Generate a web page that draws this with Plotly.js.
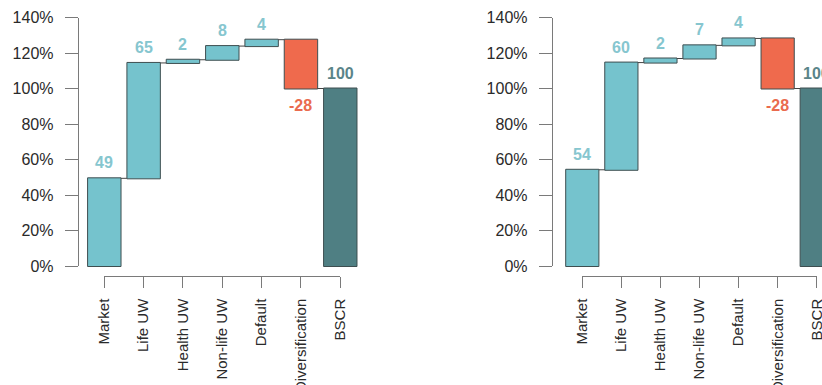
<!DOCTYPE html>
<html>
<head>
<meta charset="utf-8">
<script src="https://cdn.plot.ly/plotly-3.0.1.min.js"></script>
<style>html,body{margin:0;padding:0;background:#fff}#chart{width:822px;height:385px}</style>
</head>
<body>
<div id="chart"></div>
<script>
// ---- data ----
const categories = ["Market", "Life UW", "Health UW", "Non-life UW", "Default", "Diversification", "BSCR"];
const measures = ["relative", "relative", "relative", "relative", "relative", "relative", "total"];
const leftValues = [49.4, 65.0, 1.8, 7.7, 3.6, -27.5, 100];
const leftLabels = ["49", "65", "2", "8", "4", "-28", "100"];
const rightValues = [54.2, 60.4, 2.3, 7.4, 3.9, -28.2, 100];
const rightLabels = ["54", "60", "2", "7", "4", "-28", "100"];
const yTickVals = [0, 20, 40, 60, 80, 100, 120, 140];
const yTickText = ["0%", "20%", "40%", "60%", "80%", "100%", "120%", "140%"];

// ---- styling / geometry ----
const W = 822, H = 385;
const fx = p => p / W;
const fy = p => 1 - p / H;
const incColor = "#75C3CD", decColor = "#EF6A4D", totColor = "#4F7F83";
const incText = "#86C6CF", decText = "#EA6B4E", totText = "#5A8489";
const edge = "#3E4E50";
const axisCol = "#7a7a7a";
const FONT = "Liberation Sans, Arial, Helvetica, sans-serif";
const yTopPx = 17.5, yZeroPx = 266, xAxisPx = 275.7;
const pxPerUnit = (yZeroPx - yTopPx) / 140;

const panels = [
  {values: leftValues, labels: leftLabels, yAxisX: 77.7, first: 104.3, step: 39.33},
  {values: rightValues, labels: rightLabels, yAxisX: 551.7, first: 582.3, step: 39.07}
];

const data = [];
const layout = {
  width: W, height: H,
  margin: {l: 0, r: 0, t: 0, b: 0},
  paper_bgcolor: "#fff", plot_bgcolor: "rgba(0,0,0,0)",
  showlegend: false,
  font: {family: FONT, color: "#333"},
  annotations: []
};

panels.forEach((p, k) => {
  const bx = k === 0 ? "x" : "x2", by = k === 0 ? "y" : "y2";
  const tx = k === 0 ? "x3" : "x4", ty = k === 0 ? "y3" : "y4";
  const bxKey = k === 0 ? "xaxis" : "xaxis2", byKey = k === 0 ? "yaxis" : "yaxis2";
  const txKey = k === 0 ? "xaxis3" : "xaxis4", tyKey = k === 0 ? "yaxis3" : "yaxis4";

  data.push({
    type: "waterfall", x: categories, y: p.values, measure: measures,
    xaxis: bx, yaxis: by, width: 0.85,
    increasing: {marker: {color: incColor, line: {color: edge, width: 1}}},
    decreasing: {marker: {color: decColor, line: {color: edge, width: 1}}},
    totals: {marker: {color: totColor, line: {color: edge, width: 1}}},
    connector: {mode: "between", line: {color: "#444", width: 1}},
    textinfo: "none", hoverinfo: "skip"
  });

  // invisible helper trace so the R-style axes get drawn
  data.push({
    type: "scatter", mode: "markers", xaxis: tx, yaxis: ty,
    x: categories.map((c, i) => i), y: categories.map(() => null),
    marker: {opacity: 0}, hoverinfo: "skip"
  });

  // bar axes (hidden)
  const rLeft = -0.7;
  let rightPx = p.first + 6.7 * p.step, rRight = 6.7;
  if (rightPx > W) { rightPx = W; rRight = (W - p.first) / p.step; }
  const leftPx = p.first + rLeft * p.step;
  layout[bxKey] = {domain: [fx(leftPx), fx(rightPx)], range: [rLeft, rRight], type: "category",
    visible: false, anchor: by, fixedrange: true};
  const yMin = -4, yMax = 144;
  layout[byKey] = {domain: [fy(yZeroPx - yMin * pxPerUnit), fy(yZeroPx - yMax * pxPerUnit)],
    range: [yMin, yMax], visible: false, anchor: bx, fixedrange: true};

  // R-style axes
  layout[txKey] = {
    domain: [fx(p.first), fx(p.first + 6 * p.step)], range: [0, 6], type: "linear",
    tickvals: categories.map((c, i) => i), ticktext: categories, tickangle: -90,
    ticks: "outside", ticklen: 11, tickcolor: axisCol, tickwidth: 1,
    showline: true, linecolor: axisCol, linewidth: 1, showgrid: false, zeroline: false,
    anchor: "free", position: fy(xAxisPx), ticklabelstandoff: 5, ticklabeloverflow: "allow",
    tickfont: {family: FONT, size: 15, color: "#2a2a2a"}, fixedrange: true
  };
  layout[tyKey] = {
    domain: [fy(yZeroPx), fy(yTopPx)], range: [0, 140], tickvals: yTickVals, ticktext: yTickText,
    ticks: "outside", ticklen: 13, tickcolor: axisCol, tickwidth: 1,
    showline: true, linecolor: axisCol, linewidth: 1, showgrid: false, zeroline: false,
    anchor: "free", position: fx(p.yAxisX), side: "left", ticklabelstandoff: 8,
    tickfont: {family: FONT, size: 16, color: "#2a2a2a"}, fixedrange: true
  };

  // value labels
  let cum = 0;
  p.values.forEach((v, i) => {
    let yv, anchor, color, shift;
    if (measures[i] === "total") { yv = cum; anchor = "bottom"; color = totText; shift = 5; }
    else {
      cum += v; yv = cum;
      if (v >= 0) { anchor = "bottom"; color = incText; shift = 5; }
      else { anchor = "top"; color = decText; shift = -6; }
    }
    layout.annotations.push({
      xref: bx, yref: by, x: categories[i], y: yv, text: p.labels[i],
      showarrow: false, yanchor: anchor, xanchor: "center", yshift: shift,
      font: {family: FONT, size: 16, color: color, weight: "bold"}
    });
  });
});

Plotly.newPlot("chart", data, layout, {displayModeBar: false, staticPlot: true});
</script>
</body>
</html>
